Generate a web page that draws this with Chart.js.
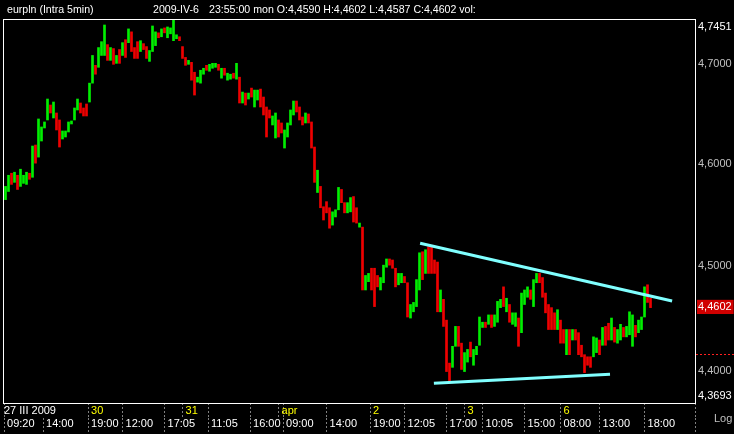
<!DOCTYPE html>
<html>
<head>
<meta charset="utf-8">
<script src="https://cdn.jsdelivr.net/npm/chart.js@4.4.1/dist/chart.umd.min.js"></script>
<style>
  body { margin: 0; background: #000; }
  #wrap { position: relative; width: 734px; height: 434px; }
  #chart { display: block; }
  .txt { position: absolute; font: 10.6px "Liberation Sans", Arial, sans-serif; color: #fff; white-space: pre; }
</style>
</head>
<body>
<div id="wrap">
  <canvas id="chart" width="734" height="434"></canvas>
  <div class="txt" style="left:7px;top:3px">eurpln (Intra 5min)</div>
  <div class="txt" style="left:153px;top:3px">2009-IV-6</div>
  <div class="txt" style="left:209px;top:3px">23:55:00 mon O:4,4590 H:4,4602 L:4,4587 C:4,4602 vol:</div>
  <div class="txt" style="left:714px;top:412px;color:#c0c0c0;font-size:11px">Log</div>
</div>
<script>
// bar highs / lows (EUR/PLN, 5 min bars, grouped)
const highs = [
  4.578, 4.589, 4.591, 4.592, 4.589, 4.595, 4.589, 4.592, 4.591, 4.618,
  4.619, 4.645, 4.637, 4.642, 4.665, 4.659, 4.662, 4.651, 4.644, 4.633,
  4.633, 4.642, 4.643, 4.656, 4.665, 4.661, 4.656, 4.660, 4.681, 4.709,
  4.699, 4.717, 4.723, 4.740, 4.720, 4.717, 4.716, 4.709, 4.715, 4.722,
  4.725, 4.736, 4.733, 4.717, 4.723, 4.724, 4.721, 4.718, 4.714, 4.739,
  4.733, 4.732, 4.736, 4.737, 4.738, 4.737, 4.745, 4.730, 4.728, 4.718,
  4.707, 4.704, 4.702, 4.692, 4.687, 4.694, 4.696, 4.699, 4.700, 4.701,
  4.701, 4.700, 4.696, 4.696, 4.691, 4.690, 4.691, 4.701, 4.687, 4.672,
  4.671, 4.671, 4.676, 4.674, 4.674, 4.675, 4.667, 4.657, 4.654, 4.648,
  4.651, 4.644, 4.641, 4.634, 4.641, 4.654, 4.663, 4.663, 4.657, 4.647,
  4.651, 4.650, 4.642, 4.617, 4.594, 4.578, 4.558, 4.563, 4.557, 4.553,
  4.555, 4.577, 4.575, 4.562, 4.562, 4.567, 4.568, 4.557, 4.542, 4.538,
  4.491, 4.493, 4.498, 4.498, 4.491, 4.489, 4.501, 4.507, 4.507, 4.506,
  4.498, 4.493, 4.493, 4.490, 4.484, 4.463, 4.465, 4.487, 4.513, 4.514,
  4.516, 4.519, 4.519, 4.506, 4.504, 4.477, 4.468, 4.448, 4.407, 4.423,
  4.442, 4.442, 4.426, 4.417, 4.420, 4.427, 4.420, 4.423, 4.451, 4.446,
  4.446, 4.453, 4.453, 4.453, 4.466, 4.468, 4.480, 4.469, 4.463, 4.455,
  4.455, 4.450, 4.474, 4.477, 4.480, 4.477, 4.487, 4.493, 4.493, 4.489,
  4.474, 4.463, 4.460, 4.455, 4.458, 4.448, 4.439, 4.439, 4.439, 4.439,
  4.439, 4.436, 4.424, 4.415, 4.413, 4.413, 4.432, 4.431, 4.429, 4.441,
  4.442, 4.445, 4.450, 4.441, 4.439, 4.444, 4.441, 4.442, 4.456, 4.453,
  4.443, 4.448, 4.451, 4.480, 4.482, 4.469
];
const lows = [
  4.565, 4.573, 4.580, 4.582, 4.575, 4.578, 4.581, 4.580, 4.585, 4.587,
  4.601, 4.607, 4.623, 4.636, 4.644, 4.651, 4.646, 4.634, 4.617, 4.625,
  4.627, 4.632, 4.640, 4.644, 4.654, 4.651, 4.648, 4.648, 4.662, 4.681,
  4.690, 4.697, 4.709, 4.709, 4.704, 4.704, 4.700, 4.701, 4.701, 4.709,
  4.707, 4.722, 4.713, 4.706, 4.706, 4.713, 4.715, 4.706, 4.703, 4.713,
  4.719, 4.727, 4.728, 4.732, 4.727, 4.731, 4.724, 4.726, 4.724, 4.706,
  4.699, 4.700, 4.684, 4.669, 4.682, 4.681, 4.690, 4.694, 4.693, 4.696,
  4.697, 4.694, 4.686, 4.689, 4.684, 4.685, 4.686, 4.685, 4.661, 4.661,
  4.659, 4.665, 4.667, 4.657, 4.664, 4.657, 4.649, 4.627, 4.646, 4.639,
  4.626, 4.627, 4.631, 4.616, 4.627, 4.639, 4.649, 4.652, 4.644, 4.639,
  4.641, 4.641, 4.616, 4.582, 4.572, 4.557, 4.545, 4.552, 4.537, 4.540,
  4.548, 4.555, 4.562, 4.552, 4.552, 4.553, 4.543, 4.542, 4.538, 4.477,
  4.477, 4.485, 4.477, 4.461, 4.480, 4.477, 4.484, 4.499, 4.501, 4.498,
  4.480, 4.482, 4.484, 4.484, 4.451, 4.450, 4.456, 4.461, 4.477, 4.487,
  4.493, 4.493, 4.493, 4.493, 4.456, 4.456, 4.442, 4.399, 4.389, 4.403,
  4.423, 4.423, 4.401, 4.399, 4.408, 4.413, 4.405, 4.415, 4.424, 4.441,
  4.441, 4.444, 4.441, 4.442, 4.446, 4.460, 4.461, 4.456, 4.446, 4.444,
  4.442, 4.423, 4.436, 4.463, 4.470, 4.468, 4.461, 4.484, 4.484, 4.470,
  4.455, 4.439, 4.439, 4.439, 4.439, 4.426, 4.426, 4.415, 4.415, 4.429,
  4.429, 4.415, 4.413, 4.398, 4.405, 4.403, 4.413, 4.417, 4.415, 4.424,
  4.424, 4.429, 4.429, 4.427, 4.426, 4.429, 4.432, 4.432, 4.434, 4.423,
  4.432, 4.436, 4.439, 4.451, 4.465, 4.460
];
// u = closed up, d = closed down
const moves =
  "uududuuudu" + "duuuududdu" + "uuuuuddduu" + "duuudududu" + "dudddudduu" +
  "ududuuuudd" + "dudduuuduu" + "ududuududu" + "duduuddddu" + "udduuuuddd" +
  "uddduddddu" + "uudduuddud" + "uuddduuudd" + "duudduuuud" + "uddddudddu" +
  "udduuduuuu" + "duduuududu" + "uduuuduudd" + "dddduddudu" + "dddddduudu" +
  "dduduuduuu" + "duuudd";

// hand drawn trend lines (bar index, price)
const upperTrendX = [138.2, 222.2];
const upperTrendY = [4.5223, 4.4663];
const lowerTrendX = [142.8, 201.5];
const lowerTrendY = [4.3879, 4.3965];

// axis labels
const timeLabels = ["09:20", "14:00", "19:00", "12:00", "17:05", "11:05", "16:00", "09:00", "14:00",
  "19:00", "12:05", "17:00", "10:05", "15:00", "08:00", "13:00", "18:00"];
const timeTickAt = [-0.5, 12.5, 27.5, 39, 53, 67.5, 81.5, 92.5, 107, 121.5, 133, 147, 159, 173, 185, 198, 213];
const dateLabels = ["27 III 2009", "30", "31", "apr", "2", "3", "6"];
const dateTickAt = [-0.5, 27.5, 59, 91, 121.5, 153, 185];
const priceTicks = [4.3693, 4.4, 4.4602, 4.5, 4.6, 4.7, 4.7451];
const yMin = 4.3693, yMax = 4.7451, lastClose = 4.4602, markLevel = 4.416;
const xMin = -0.5, xMax = 229.83;

const font = { family: "'Liberation Sans', Arial, sans-serif", size: 11 };
const fmt = v => v.toFixed(4).replace(".", ",");
const up = moves.split("").map(c => c === "u");

const framePlugin = {
  id: "frame",
  afterDraw(chart) {
    const { ctx, chartArea: a, scales } = chart;
    ctx.save();
    ctx.strokeStyle = "#ffffff";
    ctx.lineWidth = 1;
    ctx.strokeRect(a.left - 0.5, a.top - 0.5, a.right - a.left + 1, a.bottom - a.top + 1);
    const y = Math.round(scales.y.getPixelForValue(markLevel)) + 0.5;
    ctx.strokeStyle = "#ff2020";
    ctx.setLineDash([2, 2]);
    ctx.beginPath();
    ctx.moveTo(a.right + 1, y);
    ctx.lineTo(chart.width, y);
    ctx.stroke();
    ctx.restore();
  }
};

function bottomAxis(weight, ticksAt, labelFor, colorFor, tickLen, pad, height) {
  return {
    type: "linear", position: "bottom", weight,
    min: xMin, max: xMax, offset: false,
    border: { display: false },
    grid: {
      drawOnChartArea: false, drawTicks: true, offset: false,
      tickLength: tickLen, tickColor: "#808080", tickBorderDash: [2, 2], tickWidth: 1
    },
    ticks: {
      autoSkip: false, maxRotation: 0, minRotation: 0, align: "start",
      padding: pad, font, color: colorFor,
      callback: v => labelFor(v)
    },
    afterBuildTicks: s => { s.ticks = ticksAt.map(v => ({ value: v })); },
    afterFit: s => { s.height = height; }
  };
}

// date row also carries the time separators, except where the first date label covers them
const dateTicks = [...new Set(dateTickAt.concat(timeTickAt.filter(v => v > 20), [xMax]))].sort((a, b) => a - b);
const timeTicks = timeTickAt.concat([xMax]);

new Chart(document.getElementById("chart"), {
  type: "bar",
  data: {
    datasets: [
      {
        data: highs.map((h, i) => ({ x: i, y: [lows[i], h] })),
        backgroundColor: up.map(u => u ? "#00ee00" : "#ee0000"),
        borderWidth: 0,
        barThickness: 2,
        xAxisID: "x", yAxisID: "y"
      },
      {
        type: "line",
        data: upperTrendX.map((x, i) => ({ x, y: upperTrendY[i] })),
        borderColor: "#80ffff", borderWidth: 3, pointRadius: 0, order: -1,
        xAxisID: "x", yAxisID: "y"
      },
      {
        type: "line",
        data: lowerTrendX.map((x, i) => ({ x, y: lowerTrendY[i] })),
        borderColor: "#80ffff", borderWidth: 3, pointRadius: 0, order: -1,
        xAxisID: "x", yAxisID: "y"
      }
    ]
  },
  options: {
    responsive: false,
    animation: false,
    devicePixelRatio: 1,
    layout: { padding: { left: 4, top: 20, right: 0, bottom: 0 } },
    plugins: { legend: { display: false }, tooltip: { enabled: false } },
    scales: {
      xd: bottomAxis(0, dateTicks, v => {
        const k = dateTickAt.indexOf(v);
        if (k < 0) return "";
        return k === 0 ? dateLabels[k] : " " + dateLabels[k];
      }, ctx => ctx.index === 0 ? "#ffffff" : "#ffff00", 15, -14, 15),
      x: bottomAxis(1, timeTicks, v => {
        const k = timeTickAt.indexOf(v);
        return k < 0 ? "" : " " + timeLabels[k];
      }, "#ffffff", 16, -17, 16),
      y: {
        type: "logarithmic", position: "right",
        min: yMin, max: yMax,
        grid: { display: false, drawTicks: false },
        border: { display: false },
        ticks: {
          autoSkip: false, padding: 3, font,
          color: ctx => (ctx.tick.value === 4.4 || ctx.tick.value === 4.5 || ctx.tick.value === 4.6 || ctx.tick.value === 4.7) ? "#c0c0c0" : "#ffffff",
          showLabelBackdrop: ctx => ctx.tick.value === lastClose,
          backdropColor: "#d00000",
          backdropPadding: { top: 1, bottom: 0, left: 1, right: 2 },
          callback: v => {
            if (v === yMax) return ["", fmt(v)];
            if (v === yMin) return [fmt(v), ""];
            return fmt(v);
          }
        },
        afterBuildTicks: s => { s.ticks = priceTicks.map(v => ({ value: v })); },
        afterFit: s => { s.width = 39; }
      }
    }
  },
  plugins: [framePlugin]
});
</script>
</body>
</html>
